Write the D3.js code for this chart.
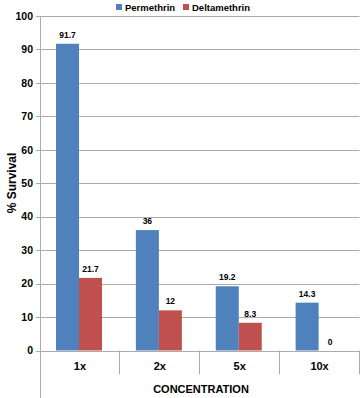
<!DOCTYPE html>
<html>
<head>
<meta charset="utf-8">
<script src="https://cdn.jsdelivr.net/npm/d3@7"></script>
<style>
  body { margin: 0; background: #fff; }
  svg text { font-family: "Liberation Sans", Arial, sans-serif; font-weight: bold; fill: #000; }
</style>
</head>
<body>
<svg id="chart" width="360" height="398"></svg>
<script>
var categories = ["1x", "2x", "5x", "10x"];
var seriesNames = ["Permethrin", "Deltamethrin"];
var permethrin = [91.7, 36, 19.2, 14.3];
var deltamethrin = [21.7, 12, 8.3, 0];
var yTicks = [0, 10, 20, 30, 40, 50, 60, 70, 80, 90, 100];

var colors = { Permethrin: "#4f81bd", Deltamethrin: "#c0504d" };
var values = { Permethrin: permethrin, Deltamethrin: deltamethrin };

var svg = d3.select("#chart");
var plotLeft = 40, plotRight = 359.5, plotTop = 16, plotBase = 350.5;

var x = d3.scaleBand().domain(categories).range([plotLeft, plotRight]);
var x1 = d3.scaleBand().domain(seriesNames).range([16, 62]);
var y = d3.scaleLinear().domain([0, 100]).range([plotBase, plotTop]);

// gridlines
svg.append("g").selectAll("line").data(yTicks).enter().append("line")
    .attr("x1", plotLeft - 4).attr("x2", plotRight)
    .attr("y1", function (d) { return Math.round(y(d)) + 0.5; })
    .attr("y2", function (d) { return Math.round(y(d)) + 0.5; })
    .attr("stroke", "#ababab").attr("stroke-width", 1);

// y tick labels
svg.append("g").selectAll("text").data(yTicks).enter().append("text")
    .attr("x", 33).attr("y", function (d) { return y(d); })
    .attr("dy", "0.36em").attr("text-anchor", "end")
    .style("font-size", "10.5px")
    .text(function (d) { return d; });

// bars
seriesNames.forEach(function (s) {
    var g = svg.append("g");
    g.selectAll("rect").data(categories).enter().append("rect")
        .attr("x", function (c) { return x(c) + x1(s); })
        .attr("width", x1.bandwidth())
        .attr("y", function (c, i) { return y(values[s][i]); })
        .attr("height", function (c, i) { return plotBase - y(values[s][i]); })
        .attr("fill", colors[s]);
    g.selectAll("text").data(categories).enter().append("text")
        .attr("x", function (c) { return x(c) + x1(s) + x1.bandwidth() / 2; })
        .attr("y", function (c, i) { return y(values[s][i]) - 6; })
        .attr("text-anchor", "middle")
        .style("font-size", "8.5px")
        .text(function (c, i) { return values[s][i]; });
});

// axis lines
svg.append("line").attr("x1", plotLeft + 0.5).attr("x2", plotLeft + 0.5)
    .attr("y1", plotTop).attr("y2", 398).attr("stroke", "#ababab");
var seps = categories.map(function (c) { return x(c) + x.bandwidth(); });
svg.append("g").selectAll("line").data(seps).enter().append("line")
    .attr("x1", function (d) { return Math.round(d) - 0.5; })
    .attr("x2", function (d) { return Math.round(d) - 0.5; })
    .attr("y1", plotBase).attr("y2", 374)
    .attr("stroke", "#ababab");

// category labels
svg.append("g").selectAll("text").data(categories).enter().append("text")
    .attr("x", function (c) { return x(c) + x.bandwidth() / 2; })
    .attr("y", 370).attr("text-anchor", "middle")
    .style("font-size", "11px")
    .text(function (c) { return c; });

// axis titles
svg.append("text").attr("x", 201).attr("y", 393).attr("text-anchor", "middle")
    .style("font-size", "11px").text("CONCENTRATION");
svg.append("text").attr("transform", "translate(16,183) rotate(-90)")
    .attr("text-anchor", "middle").style("font-size", "12px").text("% Survival");

// legend
var legendX = [116, 183];
var lg = svg.append("g").selectAll("g").data(seriesNames).enter().append("g")
    .attr("transform", function (d, i) { return "translate(" + legendX[i] + ",0)"; });
lg.append("rect").attr("x", 0).attr("y", 4).attr("width", 6).attr("height", 6)
    .attr("fill", function (d) { return colors[d]; });
lg.append("text").attr("x", 9).attr("y", 11).style("font-size", "9.5px")
    .text(function (d) { return d; });
</script>
</body>
</html>
